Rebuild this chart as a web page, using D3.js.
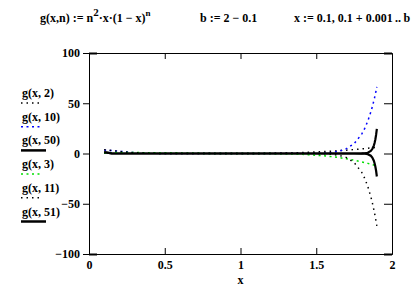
<!DOCTYPE html>
<html>
<head>
<meta charset="utf-8">
<script src="https://cdn.jsdelivr.net/npm/d3@7"></script>
<style>
  body { margin: 0; background: #fff; }
  svg text { font-family: "Liberation Serif", "Times New Roman", serif; font-weight: bold; fill: #000; }
</style>
</head>
<body>
<svg id="chart" width="411" height="287"></svg>
<script>
// x samples and the value of each trace
var xs = [0.1, 0.15, 0.2, 0.3, 0.4, 0.5, 0.6, 0.7, 0.8, 0.9, 1.0, 1.1, 1.2, 1.3, 1.4, 1.5, 1.55, 1.6, 1.65, 1.7, 1.75, 1.8, 1.82, 1.84, 1.86, 1.87, 1.88, 1.885, 1.89, 1.895, 1.9];
var g2 = [0.32, 0.43, 0.51, 0.59, 0.58, 0.5, 0.38, 0.25, 0.13, 0.04, 0, 0.04, 0.19, 0.47, 0.9, 1.5, 1.88, 2.3, 2.79, 3.33, 3.94, 4.61, 4.9, 5.19, 5.5, 5.66, 5.82, 5.9, 5.99, 6.07, 6.16];
var g10 = [3.49, 2.95, 2.15, 0.85, 0.24, 0.05, 0.01, 0, 0, 0, 0, 0, 0, 0, 0.02, 0.15, 0.39, 0.97, 2.22, 4.8, 9.85, 19.3, 25.0, 32.2, 41.2, 46.5, 52.4, 55.6, 58.9, 62.5, 66.3];
var g50 = [1.29, 0.11, 0.01, 0, 0, 0, 0, 0, 0, 0, 0, 0, 0, 0, 0, 0, 0, 0, 0, 0, 0, 0.06, 0.22, 0.75, 2.47, 4.42, 7.87, 10.5, 13.9, 18.5, 24.5];
var g3 = [0.66, 0.83, 0.92, 0.93, 0.78, 0.56, 0.35, 0.17, 0.06, 0.01, 0, -0.01, -0.09, -0.32, -0.81, -1.69, -2.32, -3.11, -4.08, -5.25, -6.64, -8.29, -9.03, -9.82, -10.65, -11.08, -11.53, -11.76, -11.99, -12.23, -12.47];
var g11 = [3.8, 3.04, 2.08, 0.72, 0.18, 0.03, 0, 0, 0, 0, 0, 0, 0, 0, -0.01, -0.09, -0.26, -0.7, -1.75, -4.07, -8.94, -18.7, -24.8, -32.7, -42.8, -48.9, -55.8, -59.5, -63.5, -67.7, -72.1];
var g51 = [1.21, 0.1, 0.01, 0, 0, 0, 0, 0, 0, 0, 0, 0, 0, 0, 0, 0, 0, 0, 0, 0, 0, -0.05, -0.19, -0.66, -2.21, -4.0, -7.21, -9.65, -12.9, -17.2, -22.9];

var legendLabels = ["g(x, 2)", "g(x, 10)", "g(x, 50)", "g(x, 3)", "g(x, 11)", "g(x, 51)"];
var xTicks = [0, 0.5, 1, 1.5, 2];
var yTicks = [100, 50, 0, -50, -100];

var traces = [
    {vals: g2, color: "#000", width: 1.5, dash: "1.5,4"},
    {vals: g10, color: "#0000ff", width: 1.5, dash: "2,3.5"},
    {vals: g50, color: "#000", width: 2.2, dash: null},
    {vals: g3, color: "#00e000", width: 1.5, dash: "2,3.5"},
    {vals: g11, color: "#000", width: 1.5, dash: "1.5,4"},
    {vals: g51, color: "#000", width: 2.2, dash: null}
];

var svg = d3.select("#chart");
// plot box (don't call it "top", that's window.top)
var boxL = 89, boxR = 392, boxT = 53, boxB = 254;

var x = d3.scaleLinear().domain([0, 2]).range([boxL, boxR]);
var y = d3.scaleLinear().domain([-100, 100]).range([boxB, boxT]);

drawTitle();
drawAxes();
drawTraces();
drawLegend();

function drawTitle(){
    var t1 = svg.append("text").attr("x", 40).attr("y", 22).style("font-size", "12px");
    t1.append("tspan").text("g(x,n) := n");
    t1.append("tspan").attr("dy", -6).style("font-size", "11px").text("2");
    t1.append("tspan").attr("dy", 6).text("\u00b7x\u00b7(1 \u2212 x)");
    t1.append("tspan").attr("dy", -6).style("font-size", "9px").text("n");

    svg.append("text").attr("x", 200).attr("y", 22).style("font-size", "12px")
        .text("b := 2 \u2212 0.1");
    svg.append("text").attr("x", 294).attr("y", 22).style("font-size", "12px")
        .text("x := 0.1, 0.1 + 0.001\u2009..\u2009b");
}

function fmt(d){ return d < 0 ? "\u2212" + (-d) : String(d); }

function drawAxes(){
    // left: labels, ticks pointing out
    var gl = svg.append("g").attr("transform", "translate(" + boxL + ",0)")
        .call(d3.axisLeft(y).tickValues(yTicks).tickSize(6).tickPadding(3).tickFormat(fmt));
    gl.selectAll(".tick line").filter(function(d){ return Math.abs(d) == 100; })
        .attr("x2", 8).attr("stroke-width", 2);

    // right: ticks pointing in
    var gr = svg.append("g").attr("transform", "translate(" + boxR + ",0)")
        .call(d3.axisLeft(y).tickValues(yTicks).tickSize(8).tickFormat(""));
    gr.selectAll(".tick line").filter(function(d){ return Math.abs(d) == 100; })
        .attr("stroke-width", 2);

    // top and bottom frame with inward ticks
    svg.append("g").attr("transform", "translate(0," + boxT + ")")
        .call(d3.axisBottom(x).tickValues([0.5, 1, 1.5]).tickSize(6).tickSizeOuter(0).tickFormat(""));
    svg.append("g").attr("transform", "translate(0," + boxB + ")")
        .call(d3.axisTop(x).tickValues([0.5, 1, 1.5]).tickSize(6).tickSizeOuter(0).tickFormat(""));

    // bottom labels
    var gb = svg.append("g").attr("transform", "translate(0," + boxB + ")")
        .call(d3.axisBottom(x).tickValues(xTicks).tickSize(0).tickPadding(6).tickFormat(fmt));
    gb.select(".domain").remove();

    svg.selectAll(".tick text")
        .attr("font-family", "Liberation Serif, serif")
        .attr("font-weight", "bold")
        .attr("font-size", 12);
    svg.selectAll(".domain").attr("stroke-width", 1);

    svg.append("text").attr("x", x(1)).attr("y", 284).attr("text-anchor", "middle")
        .style("font-size", "12px").text("x");
}

function drawTraces(){
    var line = d3.line()
        .x(function(d, i){ return x(xs[i]); })
        .y(function(d){ return y(d); });
    traces.forEach(function(t){
        svg.append("path")
            .datum(t.vals)
            .attr("d", line)
            .attr("fill", "none")
            .attr("stroke", t.color)
            .attr("stroke-width", t.width)
            .attr("stroke-dasharray", t.dash);
    });
}

function drawLegend(){
    for (var i = 0; i < legendLabels.length; i++) {
        var base = 97 + i * 23.7;
        svg.append("text").attr("x", 22).attr("y", base)
            .style("font-size", "12px").text(legendLabels[i]);
        var t = traces[i];
        svg.append("line")
            .attr("x1", 21).attr("x2", t.dash ? 42 : 46)
            .attr("y1", base + 6).attr("y2", base + 6)
            .attr("stroke", t.color)
            .attr("stroke-width", t.dash ? 1.5 : 2.5)
            .attr("stroke-dasharray", t.dash);
    }
}
</script>
</body>
</html>
